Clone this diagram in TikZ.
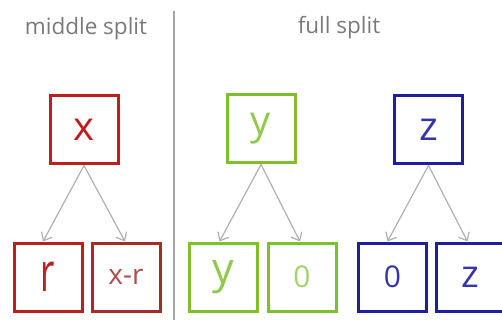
\documentclass[tikz,border=0pt]{standalone}
\usepackage{fontspec}
\setmainfont{Open Sans}
\usetikzlibrary{arrows.meta,calc}
\definecolor{cred}{HTML}{BE1E1E}
\definecolor{cbrown}{HTML}{A52A2A}
\definecolor{cgreen}{HTML}{7CC12C}
\definecolor{cblue}{HTML}{1E1EA0}
\definecolor{ctitle}{HTML}{7A7A7A}
\definecolor{carrow}{HTML}{B0B0B0}
\tikzset{
  valbox/.style={draw, line width=3pt, minimum width=68pt, minimum height=68pt, inner sep=0pt},
  title/.style={text=ctitle, font=\fontsize{22.5}{26}\selectfont},
  link/.style={draw=carrow, line width=1.2pt, -{Straight Barb[length=7pt,width=12pt]}},
  sep/.style={draw=black!35, line width=1.6pt}
}
\begin{document}
\begin{tikzpicture}[x=1pt,y=-1pt]
\useasboundingbox (0,0) rectangle (502,320);
\node[title] (t1) at (86,29) {middle split};
\node[title] (t2) at (339,28) {full split};
\coordinate (s1) at (174,11);
\coordinate (s2) at (174,320);
\draw[sep] (s1) -- (s2);

\node[valbox, draw=cred, text=cred, font=\fontsize{40}{44}\selectfont] (x) at (84,130) {x};
\node[valbox, draw=cgreen, text=cgreen!85!white, font=\fontsize{40}{44}\selectfont] (y) at (261,129) {y};
\node[valbox, draw=cblue, text=cblue!90!white, font=\fontsize{40}{44}\selectfont] (z) at (428.5,130) {z};

\node[valbox, draw=cred, text=cred] (r) at (48,277) {\fontsize{54}{58}\selectfont\scalebox{0.65}[1]{r}};
\node[valbox, draw=cbrown, text=cbrown!85!white, font=\fontsize{28}{32}\selectfont] (xr) at (126,277) {x-r};
\node[valbox, draw=cgreen, text=cgreen!85!white, font=\fontsize{43}{46}\selectfont] (y1) at (223.5,277) {y};
\node[valbox, draw=cgreen, text=cgreen!70!white, font=\fontsize{30}{34}\selectfont] (y0) at (302,277) {0};
\node[valbox, draw=cblue, text=cblue!90!white, font=\fontsize{30}{34}\selectfont] (z0) at (392.5,277) {0};
\node[valbox, draw=cblue, text=cblue!90!white, font=\fontsize{38}{42}\selectfont] (z1) at (470.5,277) {z};

\draw[link] (x.south) -- ([xshift=-5pt]r.north);
\draw[link] (x.south) -- ([xshift=-1pt]xr.north);
\draw[link] (y.south) -- ([xshift=-4pt]y1.north);
\draw[link] (y.south) -- ([xshift=-2pt]y0.north);
\draw[link] (z.south) -- ([xshift=-5pt]z0.north);
\draw[link] (z.south) -- ([xshift=-3pt]z1.north);
\end{tikzpicture}
\end{document}
